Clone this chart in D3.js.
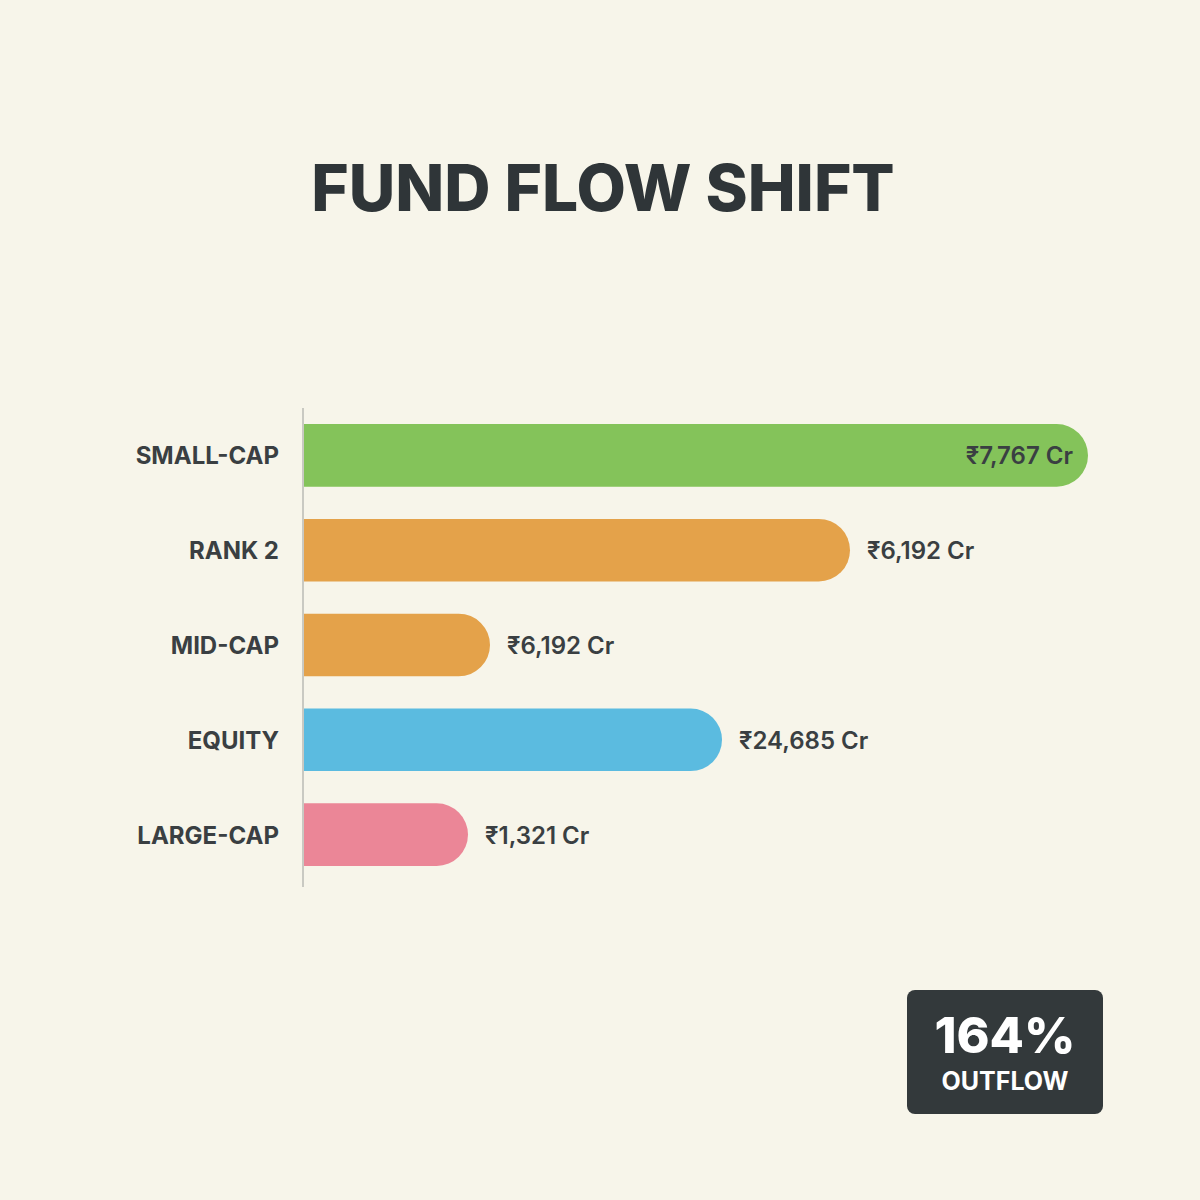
<!DOCTYPE html>
<html><head><meta charset="utf-8">
<script src="https://cdn.jsdelivr.net/npm/d3@7"></script>
<style>body{margin:0;background:#f7f5ea;}</style>
</head><body>
<script>
// data (bar lengths as drawn, labels as printed)
var categories = ["SMALL-CAP", "RANK 2", "MID-CAP", "EQUITY", "LARGE-CAP"];
var barLengths = [785, 547, 187, 419, 165];
var valueLabels = ["₹7,767 Cr", "₹6,192 Cr", "₹6,192 Cr", "₹24,685 Cr", "₹1,321 Cr"];
var colors = ["#84c35a", "#e4a24a", "#e4a24a", "#5bbbe0", "#eb8697"];

var W = 1200, H = 1200;
var font = "Inter, 'Noto Sans', sans-serif";

var svg = d3.select("body").append("svg")
    .attr("width", W).attr("height", H);
svg.append("rect").attr("width", W).attr("height", H).attr("fill", "#f7f5ea");

svg.append("text")
    .attr("x", 603).attr("y", 211)
    .attr("text-anchor", "middle")
    .style("font-family", font).style("font-weight", 800).style("font-size", "64px")
    .attr("fill", "#2f3538")
    .text("FUND FLOW SHIFT");

var x = d3.scaleLinear().domain([0, 785]).range([303, 1088]);
var y = d3.scaleBand().domain(categories).range([408, 882]).paddingInner(0.34).paddingOuter(0.17);

svg.append("line")
    .attr("x1", 303).attr("x2", 303).attr("y1", 408).attr("y2", 887)
    .attr("stroke", "#c9c9c2").attr("stroke-width", 2);

var bh = y.bandwidth();
var rows = svg.selectAll(".bar").data(categories).enter().append("g").attr("class", "bar");

rows.append("path")
    .attr("fill", function(d, i) { return colors[i]; })
    .attr("d", function(d, i) {
        var x0 = x(0) + 1, x1 = x(barLengths[i]), y0 = y(d), r = bh / 2;
        return "M" + x0 + "," + y0 + "H" + (x1 - r) +
            "A" + r + "," + r + " 0 0 1 " + (x1 - r) + "," + (y0 + bh) +
            "H" + x0 + "Z";
    });

rows.append("text")
    .attr("x", 279)
    .attr("y", function(d) { return y(d) + bh / 2 + 9; })
    .attr("text-anchor", "end")
    .style("font-family", font).style("font-weight", 700).style("font-size", "24px")
    .attr("fill", "#3a3f42")
    .text(function(d) { return d; });

rows.append("text")
    .attr("x", function(d, i) { return i === 0 ? x(barLengths[i]) - 15 : x(barLengths[i]) + 17; })
    .attr("y", function(d) { return y(d) + bh / 2 + 9; })
    .attr("text-anchor", function(d, i) { return i === 0 ? "end" : "start"; })
    .style("font-family", font).style("font-weight", 600).style("font-size", "24px")
    .attr("fill", "#3a3f42")
    .text(function(d, i) { return valueLabels[i]; });

// badge
svg.append("rect")
    .attr("x", 907).attr("y", 990).attr("width", 196).attr("height", 124)
    .attr("rx", 8).attr("fill", "#33393b");
svg.append("text")
    .attr("x", 1005).attr("y", 1053).attr("text-anchor", "middle")
    .style("font-family", font).style("font-weight", 800).style("font-size", "50px")
    .attr("fill", "#ffffff").text("164%");
svg.append("text")
    .attr("x", 1005).attr("y", 1090).attr("text-anchor", "middle")
    .style("font-family", font).style("font-weight", 700).style("font-size", "25px")
    .attr("fill", "#ffffff").text("OUTFLOW");
</script>
</body></html>
